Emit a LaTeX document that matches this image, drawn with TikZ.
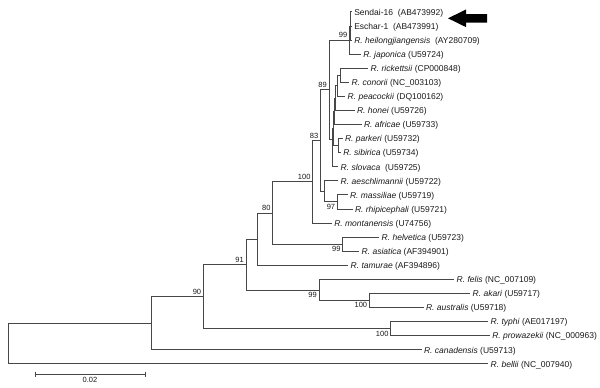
\documentclass[tikz,border=0pt]{standalone}
\usepackage{fontspec}
\setmainfont{Liberation Sans}
\begin{document}
\begin{tikzpicture}[x=1pt,y=-1pt,
  br/.style={draw=black!72,line width=0.75pt},
  tip/.style={anchor=west,inner sep=0pt,outer xsep=2.5pt,text height=6.6pt,text depth=0pt,
    font=\fontsize{8.5}{10}\selectfont,text=black!90},
  bsa/.style={anchor=south east,inner sep=0pt,xshift=-2pt,yshift=2pt,
    font=\fontsize{7.5}{9}\selectfont,text=black!90},
  bsb/.style={anchor=north east,inner sep=0pt,xshift=-2pt,yshift=-2pt,
    font=\fontsize{7.5}{9}\selectfont,text=black!90}]
\path[use as bounding box] (0,0) rectangle (600,388);
% internal nodes
\coordinate (R) at (8.3,323.1);
\coordinate (A) at (151.7,323.1);
\coordinate (B) at (203.3,296.55);
\coordinate (T) at (390.7,328.6);
\coordinate (C) at (246,264.5);
\coordinate (F) at (319,289.9);
\coordinate (G) at (369.3,300.45);
\coordinate (E) at (257.3,239.1);
\coordinate (D) at (272.7,212.95);
\coordinate (H) at (342.7,244.15);
\coordinate (S) at (312.7,181.75);
\coordinate (N83) at (320.5,140.5);
\coordinate (Q) at (324.5,191.3);
\coordinate (M) at (337.3,201.85);
\coordinate (N89) at (329,89.75);
\coordinate (N99) at (349.5,40);
\coordinate (J) at (350.8,25.9);
\coordinate (K6) at (332.5,139.5);
\coordinate (K5) at (333.5,128.4);
\coordinate (K4) at (334.5,111.2);
\coordinate (K3) at (335.5,98.05);
\coordinate (K2) at (337.8,85.7);
\coordinate (K1) at (340.5,75.15);
\coordinate (P) at (338.5,145.55);
% tips
\node[tip] (sendai) at (351.8,11.8) {Sendai-16\ \ (AB473992)};
\node[tip] (eschar) at (351.8,25.9) {Eschar-1\ \ (AB473991)};
\node[tip] (heilong) at (351.8,40.0) {\textit{R. heilongjiangensis}\ \ (AY280709)};
\node[tip] (japonica) at (360.8,54.0) {\textit{R. japonica} (U59724)};
\node[tip] (rickettsii) at (368.2,68.1) {\textit{R. rickettsii} (CP000848)};
\node[tip] (conorii) at (349.2,82.2) {\textit{R. conorii} (NC\_003103)};
\node[tip] (peacockii) at (345.2,96.3) {\textit{R. peacockii} (DQ100162)};
\node[tip] (honei) at (354.5,110.4) {\textit{R. honei} (U59726)};
\node[tip] (africae) at (361.5,124.4) {\textit{R. africae} (U59733)};
\node[tip] (parkeri) at (342.5,138.5) {\textit{R. parkeri} (U59732)};
\node[tip] (sibirica) at (340.8,152.6) {\textit{R. sibirica} (U59734)};
\node[tip] (slovaca) at (338.2,166.7) {\textit{R. slovaca}\ \ (U59725)};
\node[tip] (aeschl) at (338.2,180.8) {\textit{R. aeschlimannii} (U59722)};
\node[tip] (massiliae) at (347.5,194.8) {\textit{R. massiliae} (U59719)};
\node[tip] (rhipi) at (352.5,208.9) {\textit{R. rhipicephali} (U59721)};
\node[tip] (montanensis) at (331.8,223.0) {\textit{R. montanensis} (U74756)};
\node[tip] (helvetica) at (379.2,237.1) {\textit{R. helvetica} (U59723)};
\node[tip] (asiatica) at (359.2,251.2) {\textit{R. asiatica} (AF394901)};
\node[tip] (tamurae) at (348.2,265.2) {\textit{R. tamurae} (AF394896)};
\node[tip] (felis) at (454.2,279.3) {\textit{R. felis} (NC\_007109)};
\node[tip] (akari) at (470.2,293.4) {\textit{R. akari} (U59717)};
\node[tip] (australis) at (423.5,307.5) {\textit{R. australis} (U59718)};
\node[tip] (typhi) at (488.2,321.6) {\textit{R. typhi} (AE017197)};
\node[tip] (prowazekii) at (489.8,335.6) {\textit{R. prowazekii} (NC\_000963)};
\node[tip] (canadensis) at (421.5,349.7) {\textit{R. canadensis} (U59713)};
\node[tip] (bellii) at (488.2,363.8) {\textit{R. bellii} (NC\_007940)};
% branches
\draw[br] (R) |- (A); \draw[br] (R) |- (bellii.west);
\draw[br] (A) |- (B); \draw[br] (A) |- (canadensis.west);
\draw[br] (B) |- (C); \draw[br] (B) |- (T);
\draw[br] (T) |- (typhi.west); \draw[br] (T) |- (prowazekii.west);
\draw[br] (C) |- (E); \draw[br] (C) |- (F);
\draw[br] (F) |- (felis.west); \draw[br] (F) |- (G);
\draw[br] (G) |- (akari.west); \draw[br] (G) |- (australis.west);
\draw[br] (E) |- (D); \draw[br] (E) |- (tamurae.west);
\draw[br] (D) |- (S); \draw[br] (D) |- (H);
\draw[br] (H) |- (helvetica.west); \draw[br] (H) |- (asiatica.west);
\draw[br] (S) |- (N83); \draw[br] (S) |- (montanensis.west);
\draw[br] (N83) |- (N89); \draw[br] (N83) |- (Q);
\draw[br] (Q) |- (aeschl.west); \draw[br] (Q) |- (M);
\draw[br] (M) |- (massiliae.west); \draw[br] (M) |- (rhipi.west);
\draw[br] (N89) |- (N99); \draw[br] (N89) |- (K6);
\draw[br] (N99) |- (J); \draw[br] (N99) |- (japonica.west);
\draw[br] (J) |- (sendai.west); \draw[br] (J) |- (eschar.west); \draw[br] (J) |- (heilong.west);
\draw[br] (K6) |- (K5); \draw[br] (K6) |- (slovaca.west);
\draw[br] (K5) |- (K4); \draw[br] (K5) |- (P);
\draw[br] (K4) |- (K3); \draw[br] (K4) |- (africae.west);
\draw[br] (K3) |- (K2); \draw[br] (K3) |- (honei.west);
\draw[br] (K2) |- (K1); \draw[br] (K2) |- (peacockii.west);
\draw[br] (K1) |- (rickettsii.west); \draw[br] (K1) |- (conorii.west);
\draw[br] (P) |- (parkeri.west); \draw[br] (P) |- (sibirica.west);
% bootstrap values
\node[bsa] (bN99) at (N99) {99};
\node[bsa] (bN89) at (N89) {89};
\node[bsa] (bN83) at (N83) {83};
\node[bsa] (bS) at (S) {100};
\node[bsa] (bD) at (D) {80};
\node[bsa] (bC) at (C) {91};
\node[bsa] (bB) at (B) {90};
\node[bsb] (bT) at (T) {100};
\node[bsb] (bF) at (F) {99};
\node[bsb] (bG) at (G) {100};
\node[bsb] (bM) at (M) {97};
\node[bsb] (bH) at (H) {99};
% scale bar
\coordinate (sb1) at (35,374);
\coordinate (sb2) at (145,374);
\draw[br] (sb1) -- (sb2);
\draw[br] ([yshift=2.5pt]sb1) -- ([yshift=-2.5pt]sb1);
\draw[br] ([yshift=2.5pt]sb2) -- ([yshift=-2.5pt]sb2);
\node[anchor=north,inner sep=0pt,font=\fontsize{7.5}{9}\selectfont,text=black!90] (sblab) at (90,376.8) {0.02};
% arrow
\fill[black] (448,18.3) -- (466,9.5) -- (466,14) -- (487,14) -- (487,22.6) -- (466,22.6) -- (466,27.1) -- cycle;
\end{tikzpicture}
\end{document}
